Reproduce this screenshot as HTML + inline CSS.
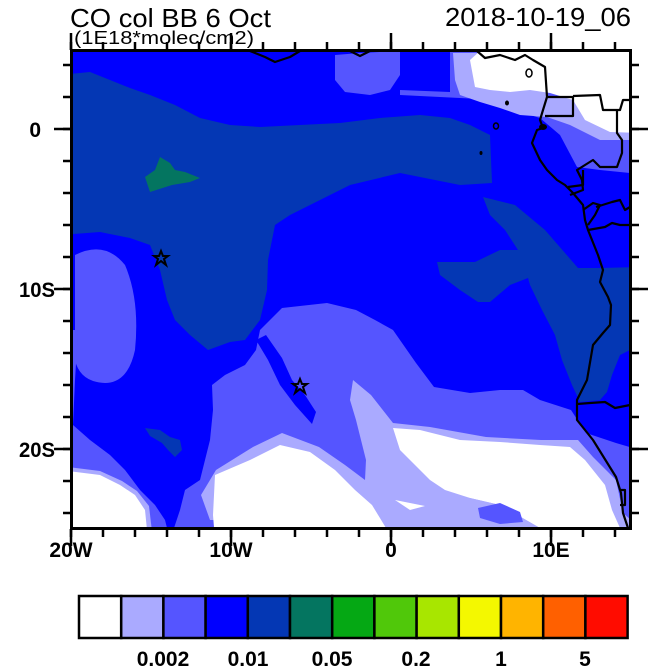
<!DOCTYPE html>
<html><head><meta charset="utf-8"><style>
html,body{margin:0;padding:0;background:#fff;}
svg{display:block;font-family:"Liberation Sans",Arial,sans-serif;}
</style></head><body>
<svg width="650" height="667" viewBox="0 0 650 667" xmlns="http://www.w3.org/2000/svg">
<defs><clipPath id="c"><rect x="72" y="51" width="558" height="477"/></clipPath></defs>
<g clip-path="url(#c)">
<rect x="60" y="40" width="600" height="500" fill="#0000ff"/>
<polygon fill="#0437b4" points="60,75 90,72 110,80 130,88 150,95 175,105 200,118 230,125 260,127 300,125 340,123 380,118 420,115 450,118 470,125 490,135 492,183 460,185 400,173 350,185 320,200 290,215 275,225 268,260 267,290 260,320 245,340 230,342 208,350 190,335 175,320 167,300 160,270 150,245 130,238 100,232 60,235"/>
<polygon fill="#0437b4" points="483,197 515,205 545,230 565,253 578,268 600,268 640,267 640,345 620,355 612,375 607,392 600,400 580,402 572,385 562,360 555,335 542,310 530,285 528,278 510,285 490,302 478,302 460,290 440,275 437,262 475,262 500,250 518,250 505,230 490,215"/>
<polygon fill="#5555ff" points="335,55 360,53 400,51 400,75 390,90 370,95 345,92 335,80"/>
<polygon fill="#5555ff" points="450,51 640,51 640,175 630,173 600,170 577,167 560,135 540,118 520,112 500,100 400,95 400,90 450,92"/>
<polygon fill="#aaaaff" points="453,53 547,53 547,97 640,97 640,140 600,140 570,125 547,117 520,115 500,108 480,102 460,95 455,80"/>
<polygon fill="#ffffff" points="470,60 480,51 640,51 640,133 610,132 585,120 573,100 550,93 530,90 510,92 490,90 475,87"/>
<path fill="#5555ff" d="M75,255 Q105,240 125,265 Q140,300 135,350 Q128,383 105,383 Q80,382 75,360 Z"/>
<polygon fill="#5555ff" points="60,330 78,330 75,380 73,425 90,440 110,455 125,470 140,490 155,505 165,520 170,540 60,540"/>
<polygon fill="#5555ff" points="260,330 282,308 327,303 356,310 375,320 393,330 416,363 434,387 470,393 500,390 523,390 540,400 571,410 586,433 616,443 640,450 640,540 170,540 180,510 185,490 200,480 205,460 210,440 213,410 212,385 225,375 245,365 256,350"/>
<polygon fill="#0000ff" points="256,340 268,360 280,385 295,405 312,424 316,412 305,395 292,380 282,358 266,335"/>
<polygon fill="#aaaaff" points="201,495 216,470 253,447 282,433 319,447 345,465 365,480 366,460 356,420 350,400 353,380 371,395 393,423 430,427 486,437 541,440 578,440 593,457 616,480 623,513 640,528 640,540 275,540 275,528 240,520 210,520"/>
<polygon fill="#aaaaff" points="60,466 100,471 122,481 137,491 149,506 153,540 60,540"/>
<polygon fill="#ffffff" points="60,470 100,475 120,485 135,495 145,510 148,540 60,540"/>
<polygon fill="#ffffff" points="215,475 250,460 280,445 310,452 335,470 355,490 372,505 386,528 386,540 215,540 213,515"/>
<polygon fill="#ffffff" points="393,428 420,430 460,440 500,442 540,445 570,447 585,460 605,485 612,510 620,528 540,528 500,505 470,498 445,490 430,480 415,465 400,450"/>
<polygon fill="#aaaaff" points="430,492 470,498 500,505 540,528 445,528 435,510"/>
<polygon fill="#5555ff" points="478,508 500,503 520,512 523,522 500,524 480,518"/>
<polygon fill="#ffffff" points="395,500 425,506 410,510"/>
<polygon fill="#047560" points="145,177 155,170 160,157 170,163 175,170 185,172 200,178 190,182 172,185 150,192"/>
<polygon fill="#0437b4" points="145,428 160,430 170,437 180,440 182,450 175,457 168,450 162,443 150,436"/>
</g>
<g fill="none" stroke="#000" stroke-width="2.2" stroke-linejoin="round">
<polyline points="250,51 265,57 275,62 290,57 300,51"/>
<polyline points="350,51 360,56 370,51"/>
<polyline points="477,51 485,58 500,55 515,60 525,55 533,60 545,67 547,97 543,110 540,120 543,128 537,130 532,143 540,160 547,170 557,180 565,185 573,193 583,205 585,220 588,230 598,255 603,270 600,282 608,297 611,305 610,325 603,333 593,345 587,380 577,400 577,420 593,440 616,477 621,493 623,513 628,528"/>
<polyline points="547,97 573,97 573,116 545,116"/>
<polyline points="573,96 600,95 603,110 620,110 623,100 630,100"/>
<polyline points="617,110 617,133 622,140 622,153 617,167 600,167 593,160 577,170 582,180 583,190 570,195"/>
<polyline points="568,187 583,185 583,170"/>
<polyline points="583,210 593,203 600,205 595,215 588,225"/>
<polyline points="596,207 612,202 620,200 625,210 630,207"/>
<polyline points="588,230 605,227 612,223 620,225 630,225"/>
<polyline points="577,404 590,403 605,402 615,408 630,405"/>
<polyline points="620,490 625,490 625,505 620,505"/>
</g>
<g fill="#000">
<ellipse cx="529" cy="73" rx="3" ry="4" fill="none" stroke="#000" stroke-width="1.5"/>
<ellipse cx="507" cy="103" rx="2" ry="2.5"/>
<ellipse cx="496" cy="126" rx="2.5" ry="3" fill="none" stroke="#000" stroke-width="1.5"/>
<ellipse cx="481" cy="153" rx="1.5" ry="2"/>
<ellipse cx="543" cy="127" rx="4" ry="3"/>
</g>
<g fill="none" stroke="#000" stroke-width="2">
<polygon points="161,251 163,256 168,256 164,259 166,265 161,261 156,265 158,259 154,256 159,256"/>
<polygon points="300,379 302,384 307,384 303,387 305,393 300,389 295,393 297,387 293,384 298,384"/>
</g>
<rect x="71.5" y="50.5" width="559" height="478" fill="none" stroke="#000" stroke-width="3"/>
<g stroke="#000" stroke-width="2.5">
<path d="M71,529v8M103,529v8M135,529v8M167,529v8M199,529v8M231,529v8M263,529v8M295,529v8M327,529v8M359,529v8M391,529v8M423,529v8M455,529v8M487,529v8M519,529v8M551,529v8M583,529v8M615,529v8"/>
<path d="M71,529v17M231,529v17M391,529v17M551,529v17"/>
<path d="M71,50v-8M103,50v-8M135,50v-8M167,50v-8M199,50v-8M231,50v-8M263,50v-8M295,50v-8M327,50v-8M359,50v-8M391,50v-8M423,50v-8M455,50v-8M487,50v-8M519,50v-8M551,50v-8M583,50v-8M615,50v-8"/>
<path d="M71,50v-17M231,50v-17M391,50v-17M551,50v-17"/>
<path d="M71,65h-8M71,97h-8M71,129h-8M71,161h-8M71,193h-8M71,225h-8M71,257h-8M71,289h-8M71,321h-8M71,353h-8M71,385h-8M71,417h-8M71,449h-8M71,481h-8M71,513h-8"/>
<path d="M71,129h-17M71,289h-17M71,449h-17"/>
<path d="M631,65h8M631,97h8M631,129h8M631,161h8M631,193h8M631,225h8M631,257h8M631,289h8M631,321h8M631,353h8M631,385h8M631,417h8M631,449h8M631,481h8M631,513h8"/>
<path d="M631,129h17M631,289h17M631,449h17"/>
</g>
<g font-size="21" font-weight="bold" fill="#000">
<text x="41" y="137" text-anchor="end">0</text>
<text x="55" y="297" text-anchor="end" textLength="36" lengthAdjust="spacingAndGlyphs">10S</text>
<text x="55" y="457" text-anchor="end" textLength="36" lengthAdjust="spacingAndGlyphs">20S</text>
<text x="71" y="557" text-anchor="middle">20W</text>
<text x="231" y="557" text-anchor="middle">10W</text>
<text x="391" y="557" text-anchor="middle">0</text>
<text x="551" y="557" text-anchor="middle">10E</text>
</g>
<text x="70" y="27" font-size="26" textLength="201" lengthAdjust="spacingAndGlyphs">CO col BB 6 Oct</text>
<text x="74" y="44" font-size="18" textLength="180" lengthAdjust="spacingAndGlyphs">(1E18*molec/cm2)</text>
<text x="631" y="26" font-size="26" text-anchor="end" textLength="186" lengthAdjust="spacingAndGlyphs">2018-10-19_06</text>
<g stroke="#000" stroke-width="2.5">
<rect x="79" y="596" width="42.2" height="42" fill="#ffffff"/>
<rect x="121.2" y="596" width="42.2" height="42" fill="#aaaaff"/>
<rect x="163.4" y="596" width="42.2" height="42" fill="#5555ff"/>
<rect x="205.6" y="596" width="42.2" height="42" fill="#0000ff"/>
<rect x="247.8" y="596" width="42.2" height="42" fill="#0437b4"/>
<rect x="290" y="596" width="42.2" height="42" fill="#047560"/>
<rect x="332.2" y="596" width="42.2" height="42" fill="#05a814"/>
<rect x="374.4" y="596" width="42.2" height="42" fill="#50c80a"/>
<rect x="416.6" y="596" width="42.2" height="42" fill="#a8e600"/>
<rect x="458.8" y="596" width="42.2" height="42" fill="#f4f800"/>
<rect x="501" y="596" width="42.2" height="42" fill="#ffb400"/>
<rect x="543.2" y="596" width="42.2" height="42" fill="#ff6000"/>
<rect x="585.4" y="596" width="42.2" height="42" fill="#ff0c00"/>
</g>
<g font-size="21" font-weight="bold" text-anchor="middle">
<text x="163" y="666">0.002</text>
<text x="248" y="666">0.01</text>
<text x="332" y="666">0.05</text>
<text x="416" y="666">0.2</text>
<text x="501" y="666">1</text>
<text x="585" y="666">5</text>
</g>
</svg>
</body></html>
